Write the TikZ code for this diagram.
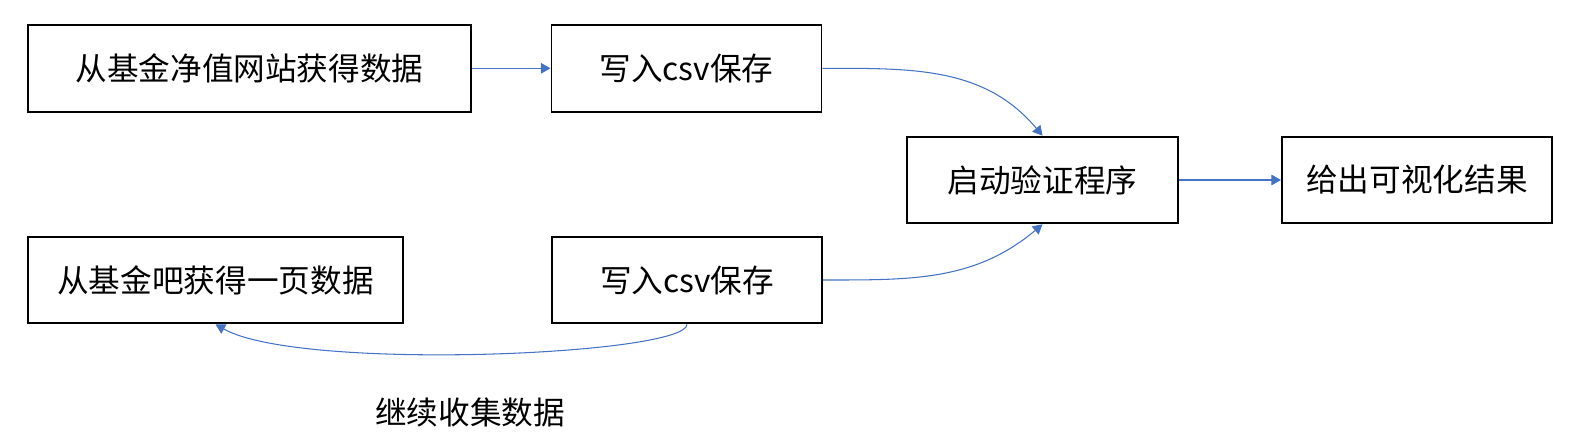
\documentclass[tikz,border=0pt]{standalone}
\usepackage{fontspec}
\setmainfont{Noto Sans CJK SC}
\usepackage{tikz}
\usetikzlibrary{arrows.meta}
\definecolor{linkblue}{HTML}{4472C4}

\begin{document}
\begin{tikzpicture}[
    box/.style={draw, line width=1.1pt, minimum height=1.734cm, minimum width=5.40cm,
        font=\fontsize{18}{22}\selectfont},
    link/.style={draw=linkblue, line width=0.6pt, -{Triangle[length=5.5pt,width=6pt]}}
  ]
    \useasboundingbox (0,0) rectangle (31.7,8.84);

    \node[box, minimum width=8.86cm] (fetchnav) at (4.99,7.474) {从基金净值网站获得数据};
    \node[box] (saveone) at (13.73,7.474) {写入csv保存};
    \node[box, minimum width=5.42cm] (check) at (20.85,5.24) {启动验证程序};
    \node[box] (show) at (28.34,5.24) {给出可视化结果};
    \node[box, minimum width=7.50cm] (fetchbar) at (4.31,3.24) {从基金吧获得一页数据};
    \node[box] (savetwo) at (13.74,3.24) {写入csv保存};
    \node[font=\fontsize{18}{22}\selectfont] (again) at (9.4,0.59) {继续收集数据};

    \draw[link] (fetchnav) -- (saveone);
    \draw[link] (saveone.east) to[out=0, in=130] (check.north);
    \draw[link] (savetwo.east) to[out=0, in=-140] (check.south);
    \draw[link] (check) -- (show);
    \draw[link] (savetwo.south) .. controls (13.74,1.74) and (6.0,1.40) .. (fetchbar.south);
\end{tikzpicture}
\end{document}
